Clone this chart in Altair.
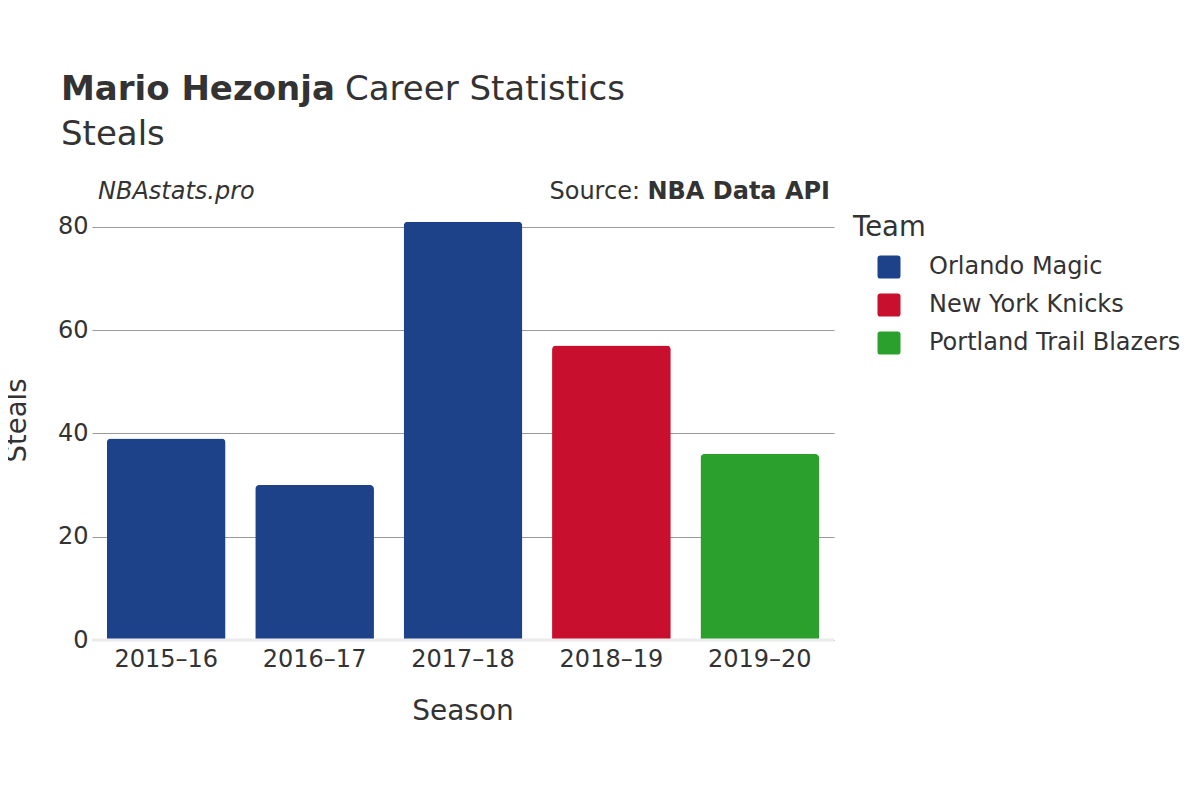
import altair as alt
import pandas as pd

seasons = ["2015–16", "2016–17", "2017–18", "2018–19", "2019–20"]
steals = [39, 30, 81, 57, 36]
teams = ["Orlando Magic", "Orlando Magic", "Orlando Magic", "New York Knicks", "Portland Trail Blazers"]
team_order = ["Orlando Magic", "New York Knicks", "Portland Trail Blazers"]
team_colors = ["#1D428A", "#C8102E", "#2CA02C"]
y_ticks = [0, 20, 40, 60, 80]

FONT = "DejaVu Sans"
TXT = "#333333"

df = pd.DataFrame({"Season": seasons, "Steals": steals, "Team": teams})

rounded = "M -0.75 -1 H 0.75 Q 1 -1 1 -0.75 V 0.75 Q 1 1 0.75 1 H -0.75 Q -1 1 -1 0.75 V -0.75 Q -1 -1 -0.75 -1 Z"

bars = alt.Chart(df).mark_bar(cornerRadiusTopLeft=4, cornerRadiusTopRight=4).encode(
    x=alt.X("Season:N", sort=seasons,
            scale=alt.Scale(paddingInner=0.2, paddingOuter=0.1),
            axis=alt.Axis(title=None, labelAngle=0, domain=False, ticks=False,
                          labelFontSize=24, labelPadding=7, labelColor=TXT, labelFont=FONT)),
    y=alt.Y("Steals:Q", scale=alt.Scale(domain=[0, 85], nice=False),
            axis=alt.Axis(title=None, values=y_ticks, domain=False, ticks=False,
                          grid=True, gridColor="#9a9a9a", gridWidth=1,
                          labelFontSize=24, labelPadding=4, labelColor=TXT, labelFont=FONT)),
    color=alt.Color("Team:N", scale=alt.Scale(domain=team_order, range=team_colors),
                    legend=alt.Legend(title=None, orient="none", legendX=785, legendY=54,
                                      symbolType=rounded, symbolSize=529, symbolStrokeWidth=0,
                                      labelFontSize=24, labelFont=FONT, labelColor=TXT,
                                      labelLimit=400,
                                      labelOffset=28, rowPadding=14, padding=0)),
)

zero = alt.Chart(pd.DataFrame({"z": [0]})).mark_rule(color="#ebebeb", strokeWidth=3).encode(
    y=alt.Y("z:Q")
)


def txt(s, x, y, size, weight="normal", style="normal", align="left", angle=0, baseline="alphabetic"):
    kw = dict(fontSize=size, fontWeight=weight, fontStyle=style, align=align,
              baseline=baseline, font=FONT, color=TXT)
    if angle:
        kw["angle"] = angle
    return alt.Chart(pd.DataFrame({"t": [s]})).mark_text(**kw).encode(
        text="t:N", x=alt.value(x), y=alt.value(y))


texts = [
    txt("Mario Hezonja", -31, -101, 34, weight="bold"),
    txt("Career Statistics", 253, -101, 34),
    txt("Steals", -31, -56, 34),
    txt("NBAstats.pro", 6, -2, 24, style="italic"),
    txt("NBA Data API", 738, -2, 24, weight="bold", align="right"),
    txt("Source:", 548, -2, 24, align="right"),
    txt("Team", 761, 35, 27.5),
    txt("Season", 371, 519, 28, align="center"),
    txt("Steals", -74, 219.5, 27.5, align="center", angle=270, baseline="middle"),
]

chart = alt.layer(bars, zero, *texts).properties(
    width=742, height=439,
    background="white",
    autosize=alt.AutoSizeParams(type="none"),
    padding={"left": 84, "top": 193, "right": 358, "bottom": 140},
).configure_view(strokeWidth=0, stroke=None)

chart.save("out.html", embed_options={"renderer": "svg", "actions": False})
